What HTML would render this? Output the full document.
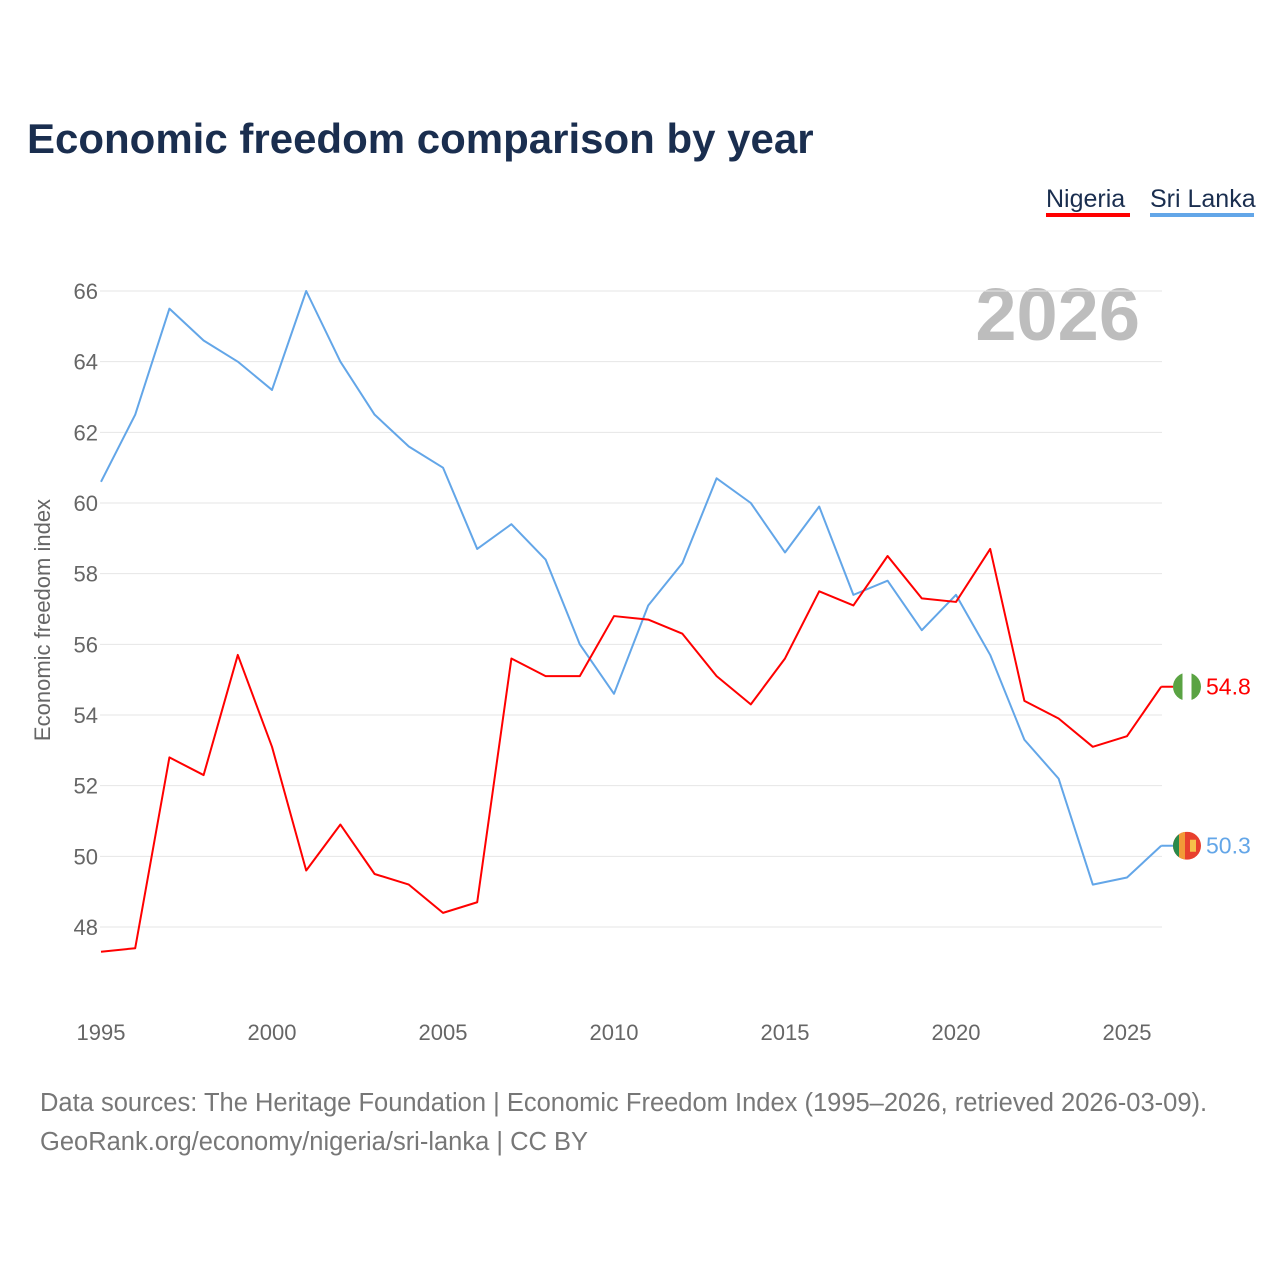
<!DOCTYPE html>
<html><head><meta charset="utf-8"><style>
body{margin:0;background:#fff;width:1280px;height:1280px;overflow:hidden;font-family:"Liberation Sans",sans-serif}
</style></head><body>
<svg id="chart" width="1280" height="1280" xmlns="http://www.w3.org/2000/svg" font-family="Liberation Sans, sans-serif">
<defs id="defs"></defs>
<text x="27" y="153" font-size="42" font-weight="bold" fill="#1a2e4f">Economic freedom comparison by year</text>
<g><text x="1046" y="207" font-size="25" fill="#1a2e4f">Nigeria</text><rect x="1046" y="213" width="84" height="4" fill="#ff0000"/></g>
<g><text x="1150" y="207" font-size="25" fill="#1a2e4f">Sri Lanka</text><rect x="1150" y="213" width="104" height="4" fill="#63a6e8"/></g>
<text x="1140" y="340" text-anchor="end" font-size="74" font-weight="bold" fill="#bdbdbd">2026</text>
<text transform="translate(50,620) rotate(-90)" text-anchor="middle" font-size="22" fill="#666">Economic freedom index</text>
<g id="grid"></g><g id="yticks"></g><g id="xticks"></g><g id="lines"></g>
<text x="40" y="1111" font-size="25.5" fill="#777">Data sources: The Heritage Foundation | Economic Freedom Index (1995–2026, retrieved 2026-03-09).</text>
<text x="40" y="1150" font-size="25.5" fill="#777">GeoRank.org/economy/nigeria/sri-lanka | CC BY</text>
</svg>
<script>
const years=[1995,1996,1997,1998,1999,2000,2001,2002,2003,2004,2005,2006,2007,2008,2009,2010,2011,2012,2013,2014,2015,2016,2017,2018,2019,2020,2021,2022,2023,2024,2025,2026];
const nigeria=[47.3,47.4,52.8,52.3,55.7,53.1,49.6,50.9,49.5,49.2,48.4,48.7,55.6,55.1,55.1,56.8,56.7,56.3,55.1,54.3,55.6,57.5,57.1,58.5,57.3,57.2,58.7,54.4,53.9,53.1,53.4,54.8];
const sriLanka=[60.6,62.5,65.5,64.6,64.0,63.2,66.0,64.0,62.5,61.6,61.0,58.7,59.4,58.4,56.0,54.6,57.1,58.3,60.7,60.0,58.6,59.9,57.4,57.8,56.4,57.4,55.7,53.3,52.2,49.2,49.4,50.3];
const yTicks=[48,50,52,54,56,58,60,62,64,66];
const xTicks=[1995,2000,2005,2010,2015,2020,2025];
const NS="http://www.w3.org/2000/svg";
const X=y=>101+(y-1995)*(1127-101)/30;
const Y=v=>927-(v-48)*(927-291)/18;
function mk(t,a,p){const e=document.createElementNS(NS,t);for(const k in a)e.setAttribute(k,a[k]);p.appendChild(e);return e;}
const grid=document.getElementById('grid'),yt=document.getElementById('yticks'),xt=document.getElementById('xticks'),ln=document.getElementById('lines'),defs=document.getElementById('defs');
yTicks.forEach(v=>{
 const l=mk('line',{x1:100,x2:1162,y1:Y(v),y2:Y(v),stroke:'#e6e6e6','stroke-width':1},grid);
 
 
 const t=mk('text',{x:98,y:Y(v)+8,'text-anchor':'end','font-size':22,fill:'#666'},yt);t.textContent=v;
 
 
});
xTicks.forEach(v=>{
 const t=mk('text',{x:X(v),y:1040,'text-anchor':'middle','font-size':22,fill:'#666'},xt);t.textContent=v;
 
 
});
function series(vals,color,name,flag){
 const p=mk('polyline',{points:vals.map((v,i)=>X(years[i])+','+Y(v)).join(' '),fill:'none',stroke:color,'stroke-width':2,'stroke-linejoin':'round'},ln);
 
 
 const last=vals[vals.length-1],ly=Y(last);
 const cp=mk('clipPath',{id:'clip-'+name},defs);
 mk('circle',{cx:1187,cy:ly,r:14},cp);
 const g=mk('g',{},ln);
 
 
 mk('line',{x1:X(2026),x2:1174,y1:ly,y2:ly,stroke:color,'stroke-width':2},g);
 const f=mk('g',{'clip-path':'url(#clip-'+name+')'},g);
 if(flag==='ng'){
  mk('rect',{x:1173,y:ly-14,width:28,height:28,fill:'#fff'},f);
  mk('rect',{x:1173,y:ly-14,width:9.5,height:28,fill:'#5aa343'},f);
  mk('rect',{x:1191.5,y:ly-14,width:9.5,height:28,fill:'#5aa343'},f);
 }else{
  mk('rect',{x:1173,y:ly-14,width:28,height:28,fill:'#e8402e'},f);
  mk('rect',{x:1173,y:ly-14,width:6,height:28,fill:'#2a8a4a'},f);
  mk('rect',{x:1179,y:ly-14,width:6,height:28,fill:'#f29a38'},f);
  mk('rect',{x:1190,y:ly-6,width:6,height:12,fill:'#f6c24a'},f);
 }
 const t=mk('text',{x:1206,y:ly+8,'font-size':23,fill:color},g);t.textContent=last.toFixed(1);
 
 
}
series(sriLanka,'#63a6e8','sri-lanka','lk');
series(nigeria,'#ff0000','nigeria','ng');
</script>
</body></html>
